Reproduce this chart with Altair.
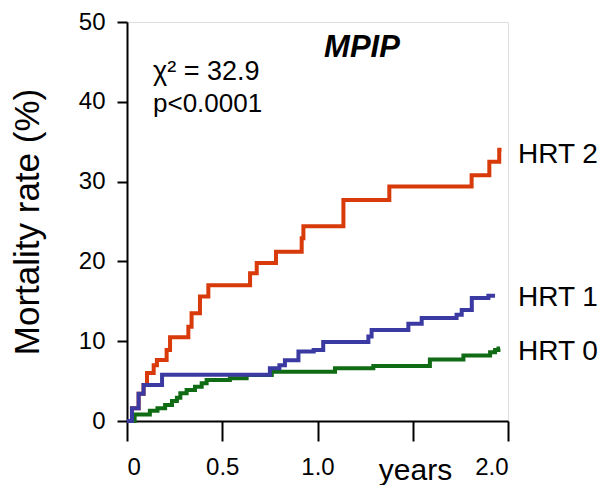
import altair as alt
import pandas as pd

# HRT 2 (red)
hrt2_t = [0, 0.026, 0.061, 0.087, 0.105, 0.14, 0.157, 0.208, 0.226, 0.322, 0.339, 0.383, 0.427,
          0.646, 0.681, 0.782, 0.917, 0.926, 1.136, 1.377, 1.809, 1.902, 1.954, 1.966]
hrt2_v = [0, 1.6, 3.4, 4.5, 6.0, 7.0, 7.64, 8.9, 10.5, 11.8, 13.5, 15.6, 17.0,
          18.5, 19.8, 21.2, 22.9, 24.4, 27.7, 29.4, 30.8, 32.5, 34.0, 34.0]
# HRT 1 (blue)
hrt1_t = [0, 0.026, 0.061, 0.087, 0.184, 0.75, 0.8, 0.829, 0.9, 0.98, 1.03, 1.267, 1.284,
          1.477, 1.547, 1.73, 1.757, 1.81, 1.897, 1.932]
hrt1_v = [0, 1.6, 3.4, 4.5, 5.8, 6.6, 7.0, 7.6, 8.7, 8.9, 9.9, 10.6, 11.4,
          12.2, 12.9, 13.3, 13.9, 15.4, 15.7, 15.7]
# HRT 0 (green)
hrt0_t = [0, 0.04, 0.12, 0.16, 0.2, 0.236, 0.262, 0.28, 0.313, 0.357, 0.392, 0.418, 0.54,
          0.628, 0.76, 1.092, 1.293, 1.59, 1.766, 1.906, 1.932, 1.95, 1.958]
hrt0_v = [0, 0.8, 1.3, 1.6, 2.0, 2.5, 2.9, 3.47, 3.88, 4.3, 4.72, 5.14, 5.35,
          5.76, 6.18, 6.6, 6.9, 7.7, 8.2, 8.6, 8.9, 9.1, 9.1]

groups = ["HRT 2", "HRT 0", "HRT 1"]
colors = ["#D83A0A", "#0F6B14", "#3A3AA2"]

rows = []
for g, ts, vs in [("HRT 2", hrt2_t, hrt2_v), ("HRT 0", hrt0_t, hrt0_v), ("HRT 1", hrt1_t, hrt1_v)]:
    for t, v in zip(ts, vs):
        rows.append({"group": g, "t": t, "v": v})
df = pd.DataFrame(rows)

FONT = "Liberation Sans"

x_axis = alt.Axis(
    values=[0, 0.5, 1.0, 1.5, 2.0],
    labelExpr="datum.value == 0 ? '0' : (datum.value == 1.5 ? '' : format(datum.value, '.1f'))",
    tickSize=20, tickWidth=2, tickColor="black",
    domainColor="black", domainWidth=2,
    labelFontSize=24, labelFont=FONT, labelColor="black", labelPadding=14,
    grid=False,
    title="years", titleFont=FONT, titleFontSize=30, titleFontWeight="normal",
    titleColor="black", titleX=288, titleY=58, titleAlign="center", titleBaseline="alphabetic",
)
y_axis = alt.Axis(
    values=[0, 10, 20, 30, 40, 50],
    tickSize=10, tickWidth=2, tickColor="black",
    domainColor="black", domainWidth=2,
    labelFontSize=24, labelFont=FONT, labelColor="black", labelPadding=12,
    grid=False,
    title="Mortality rate (%)", titleFont=FONT, titleFontSize=35, titleFontWeight="normal",
    titleColor="black", titleX=-82,
)

lines = alt.Chart(df).mark_line(interpolate="step-after", strokeWidth=4).encode(
    x=alt.X("t:Q", scale=alt.Scale(domain=[0, 2], nice=False), axis=x_axis),
    y=alt.Y("v:Q", scale=alt.Scale(domain=[0, 50], nice=False), axis=y_axis),
    color=alt.Color("group:N", scale=alt.Scale(domain=groups, range=colors), legend=None),
    order=alt.Order("t:Q"),
)

def label(text, x, y, size, align="left", weight="normal", style="normal", baseline="middle"):
    return alt.Chart(pd.DataFrame({"s": [text]})).mark_text(
        font=FONT, fontSize=size, align=align, baseline=baseline,
        fontWeight=weight, fontStyle=style, color="black",
    ).encode(text="s:N", x=alt.value(x), y=alt.value(y))

texts = [
    label("MPIP", 235, 35, 31, align="center", weight="bold", style="italic", baseline="alphabetic"),
    label("χ² = 32.9", 26, 58, 27, baseline="alphabetic"),
    label("p<0.0001", 26, 90, 26, baseline="alphabetic"),
    label("HRT 2", 391, 133, 28),
    label("HRT 1", 391, 276, 28),
    label("HRT 0", 391, 330, 28),
]

chart = alt.layer(lines, *texts).properties(
    width=381, height=399,
    autosize=alt.AutoSizeParams(type="none"),
    padding={"left": 119, "top": 14, "right": 92, "bottom": 64},
).configure_view(stroke=None).configure(background="white")

chart.save("out.html", embed_options={"renderer": "svg", "actions": False})
